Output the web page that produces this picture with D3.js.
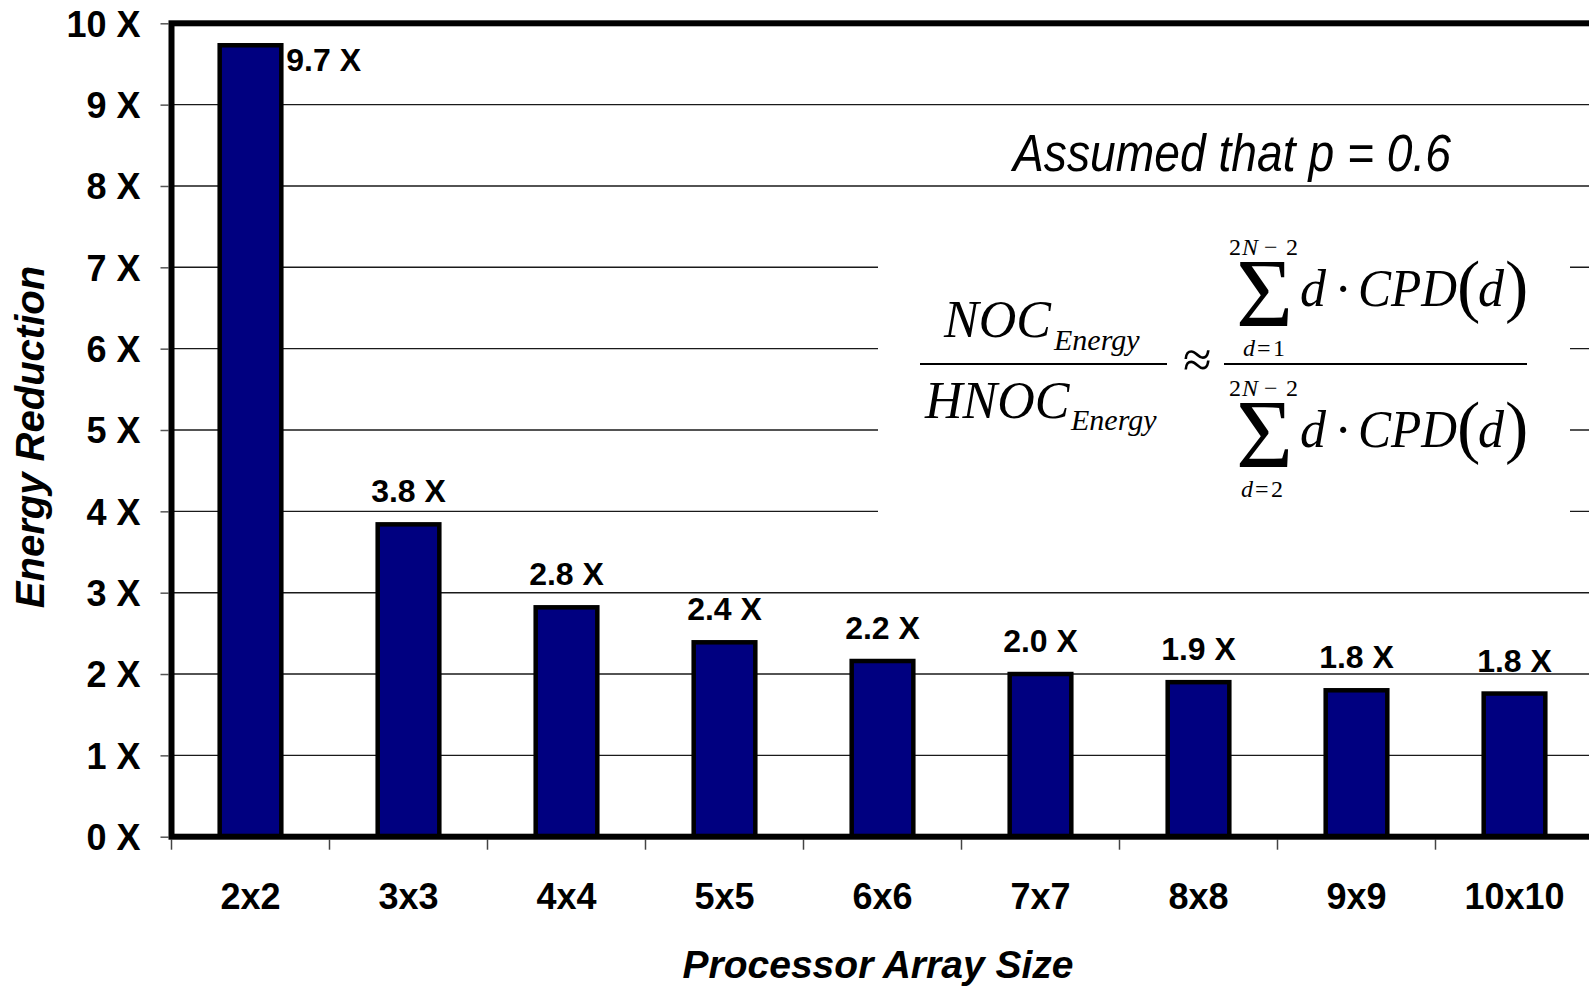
<!DOCTYPE html>
<html>
<head>
<meta charset="utf-8">
<script src="https://cdn.jsdelivr.net/npm/d3@7"></script>
<style>
  html, body { margin: 0; padding: 0; background: #fff; overflow: hidden; }
  svg { display: block; }
</style>
</head>
<body>
<svg id="chart" width="1589" height="987"></svg>
<script>
// Energy reduction of the hierarchical NoC versus array size
const categories = ["2x2", "3x3", "4x4", "5x5", "6x6", "7x7", "8x8", "9x9", "10x10"];
const reduction = [9.73, 3.84, 2.82, 2.39, 2.16, 2.00, 1.90, 1.80, 1.76];
const yTicks = [0, 1, 2, 3, 4, 5, 6, 7, 8, 9, 10];
const gridValues = [1, 2, 3, 4, 5, 6, 7, 8, 9];
const xTitle = "Processor Array Size";
const yTitle = "Energy Reduction";
const note = "Assumed that p = 0.6";

const SANS = "'Liberation Sans', Arial, Helvetica, sans-serif";
const SERIF = "'Liberation Serif', 'Times New Roman', Times, serif";

const svg = d3.select("#chart");

// plot frame
const plotLeft = 171.5, plotTop = 23.3, plotBottom = 836.7, step = 158;
const plotRight = plotLeft + step * categories.length;

const x = d3.scaleBand().domain(categories).range([plotLeft, plotRight]).padding(0);
const y = d3.scaleLinear().domain([0, 10]).range([plotBottom, plotTop]);
const barW = x.bandwidth() * 0.39;
const fmt = d3.format(".1f");

// horizontal gridlines
svg.append("g")
  .selectAll("line")
  .data(gridValues)
  .join("line")
  .attr("x1", plotLeft).attr("x2", plotRight)
  .attr("y1", d => y(d)).attr("y2", d => y(d))
  .attr("stroke", "#1a1a1a").attr("stroke-width", 1.4);

// white panel behind the formula
svg.append("rect")
  .attr("x", 878).attr("y", 200).attr("width", 692).attr("height", 320)
  .attr("fill", "#fff");

// bars
svg.append("g")
  .selectAll("rect")
  .data(categories)
  .join("rect")
  .attr("x", d => x(d) + (x.bandwidth() - barW) / 2)
  .attr("y", (d, i) => y(reduction[i]))
  .attr("width", barW)
  .attr("height", (d, i) => plotBottom - y(reduction[i]))
  .attr("fill", "#000080")
  .attr("stroke", "#000")
  .attr("stroke-width", 4.5);

// Y axis ticks and labels
const yAxis = d3.axisLeft(y).tickValues(yTicks).tickSize(8).tickPadding(20)
  .tickFormat(d => d + " X");
const gy = svg.append("g").attr("transform", `translate(${plotLeft - 3},0)`).call(yAxis);
gy.select(".domain").remove();
gy.selectAll(".tick line").attr("stroke", "#555").attr("stroke-width", 1.5);
gy.selectAll(".tick text")
  .attr("dy", "0.36em")
  .style("font-family", SANS).style("font-size", "36px").style("font-weight", "bold")
  .attr("fill", "#000");

// X axis category labels
const xAxis = d3.axisBottom(x).tickSize(0).tickPadding(47);
const gx = svg.append("g").attr("transform", `translate(0,${plotBottom})`).call(xAxis);
gx.select(".domain").remove();
gx.selectAll(".tick text")
  .style("font-family", SANS).style("font-size", "36px").style("font-weight", "bold")
  .attr("fill", "#000");

// X tick marks at category boundaries
const boundaries = categories.map(c => x(c)).concat([plotRight]);
svg.append("g")
  .selectAll("line")
  .data(boundaries)
  .join("line")
  .attr("x1", d => d).attr("x2", d => d)
  .attr("y1", plotBottom + 3).attr("y2", plotBottom + 13)
  .attr("stroke", "#444").attr("stroke-width", 1.5);

// thick plot frame
svg.append("rect")
  .attr("x", plotLeft).attr("y", plotTop)
  .attr("width", plotRight - plotLeft).attr("height", plotBottom - plotTop)
  .attr("fill", "none").attr("stroke", "#000").attr("stroke-width", 6);

// value labels
svg.append("g")
  .selectAll("text")
  .data(categories)
  .join("text")
  .each(function (d, i) {
    const v = reduction[i];
    const sel = d3.select(this);
    const yTop = y(v);
    if (yTop - 22 - 24 < plotTop + 4) {
      // too close to the frame: put it beside the bar
      sel.attr("x", x(d) + (x.bandwidth() + barW) / 2 + 5)
         .attr("y", yTop + 26)
         .attr("text-anchor", "start");
    } else {
      sel.attr("x", x(d) + x.bandwidth() / 2)
         .attr("y", yTop - 22)
         .attr("text-anchor", "middle");
    }
  })
  .text((d, i) => fmt(reduction[i]) + " X")
  .style("font-family", SANS).style("font-size", "32px").style("font-weight", "bold")
  .attr("fill", "#000");

// axis titles
svg.append("text")
  .attr("x", 878).attr("y", 978)
  .attr("text-anchor", "middle")
  .style("font-family", SANS).style("font-size", "39px")
  .style("font-weight", "bold").style("font-style", "italic")
  .text(xTitle);

svg.append("text")
  .attr("transform", "translate(44,437) rotate(-90)")
  .attr("text-anchor", "middle")
  .style("font-family", SANS).style("font-size", "40px")
  .style("font-weight", "bold").style("font-style", "italic")
  .text(yTitle);

// assumption note (narrow italic face)
svg.append("text")
  .attr("x", 1013).attr("y", 171)
  .attr("textLength", 438).attr("lengthAdjust", "spacingAndGlyphs")
  .style("font-family", SANS).style("font-size", "51px").style("font-style", "italic")
  .text(note);

// formula: NOC_Energy / HNOC_Energy ≈ Σ d·CPD(d) / Σ d·CPD(d)
const f = svg.append("g").style("font-family", SERIF).attr("fill", "#000");

// one <text> per formula term, each glyph run placed with its own tspan
function term(g, parts) {
  const t = g.append("text");
  parts.forEach(p => {
    const s = t.append("tspan")
      .attr("x", p.x).attr("y", p.y)
      .style("font-size", p.size + "px")
      .style("font-style", p.italic ? "italic" : "normal")
      .text(p.t);
    if (p.len) s.attr("textLength", p.len).attr("lengthAdjust", "spacingAndGlyphs");
  });
  return t;
}

// left fraction
term(f, [
  { t: "NOC", x: 944, y: 337, size: 52, italic: true },
  { t: "Energy", x: 1054, y: 350, size: 30, italic: true }
]);
f.append("line").attr("x1", 920).attr("x2", 1167).attr("y1", 364).attr("y2", 364)
  .attr("stroke", "#000").attr("stroke-width", 2);
term(f, [
  { t: "HNOC", x: 925, y: 418, size: 52, italic: true },
  { t: "Energy", x: 1071, y: 430, size: 30, italic: true }
]);

// approximately equal
term(f, [{ t: "\u2248", x: 1183, y: 377, size: 52 }]);

// right fraction bar
f.append("line").attr("x1", 1224).attr("x2", 1527).attr("y1", 364).attr("y2", 364)
  .attr("stroke", "#000").attr("stroke-width", 2);

function sumTerm(dy, lower, lowX) {
  term(f, [
    { t: "2", x: 1229, y: 255 + dy, size: 24 },
    { t: "N", x: 1242, y: 255 + dy, size: 24, italic: true },
    { t: "\u2212", x: 1264, y: 255 + dy, size: 24 },
    { t: "2", x: 1286, y: 255 + dy, size: 24 },
    { t: "\u03A3", x: 1236, y: 326 + dy, size: 98, len: 57 },
    { t: "d", x: lowX, y: 356 + dy, size: 24, italic: true },
    { t: "=", x: lowX + 14, y: 356 + dy, size: 24 },
    { t: lower, x: lowX + 30, y: 356 + dy, size: 24 },
    { t: "d", x: 1300, y: 306 + dy, size: 52, italic: true },
    { t: "\u00B7", x: 1334.5, y: 306 + dy, size: 52 },
    { t: "CPD", x: 1358, y: 306 + dy, size: 52, italic: true, len: 99 },
    { t: "(", x: 1457, y: 309 + dy, size: 70 },
    { t: "d", x: 1478, y: 306 + dy, size: 52, italic: true },
    { t: ")", x: 1505, y: 309 + dy, size: 70 }
  ]);
}
sumTerm(0, "1", 1243);
sumTerm(141, "2", 1241);
</script>
</body>
</html>
